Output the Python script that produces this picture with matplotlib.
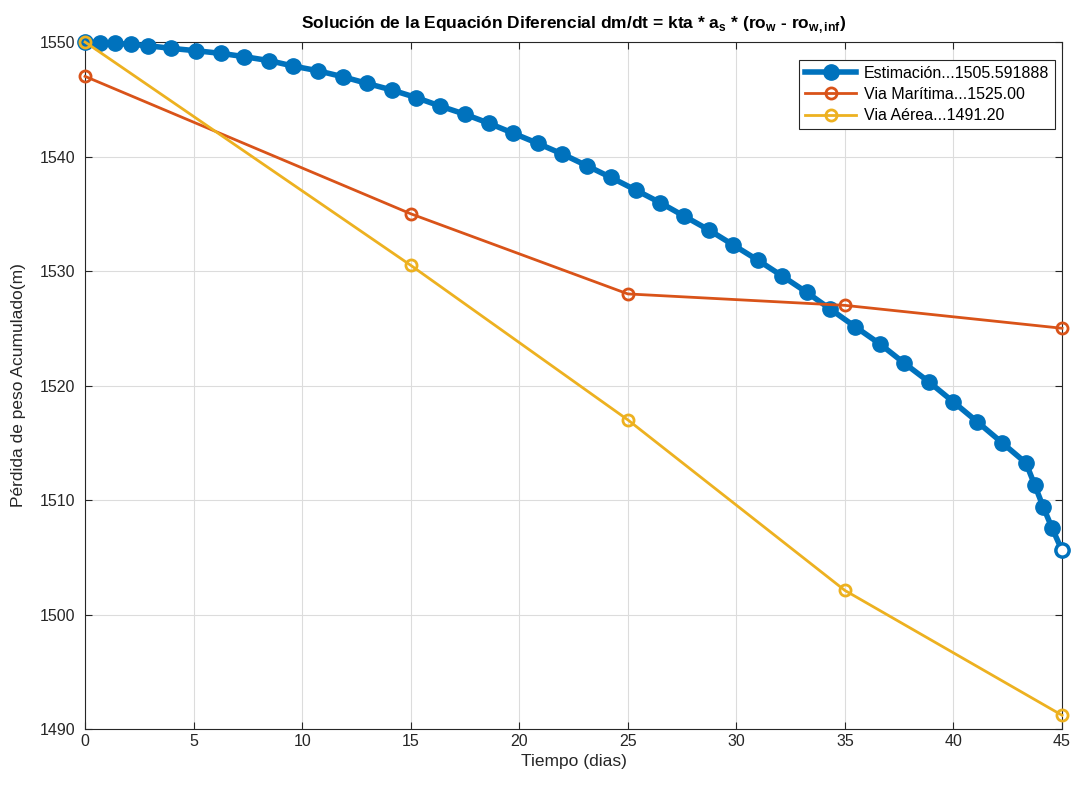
import matplotlib.pyplot as plt

plt.rcParams['font.family'] = ['Liberation Sans', 'DejaVu Sans']
plt.rcParams['mathtext.fontset'] = 'custom'
plt.rcParams['mathtext.rm'] = 'Liberation Sans'
plt.rcParams['mathtext.bf'] = 'Liberation Sans:bold'

# estimacion (solucion numerica)
t_est = [0, 0.69, 1.38, 2.12, 2.89, 3.95, 5.10, 6.26, 7.34, 8.49, 9.59, 10.72,
         11.87, 12.98, 14.13, 15.25, 16.35, 17.50, 18.61, 19.73, 20.85, 21.98,
         23.11, 24.21, 25.37, 26.49, 27.59, 28.74, 29.86, 30.98, 32.09, 33.24,
         34.32, 35.47, 36.62, 37.72, 38.86, 39.98, 41.09, 42.24, 43.34, 43.74,
         44.13, 44.54, 45.0]
m_est = [1550.0, 1549.94, 1549.89, 1549.80, 1549.68, 1549.45, 1549.24, 1549.01,
         1548.72, 1548.37, 1547.90, 1547.49, 1546.97, 1546.39, 1545.81, 1545.15,
         1544.41, 1543.69, 1542.90, 1542.03, 1541.15, 1540.22, 1539.20, 1538.18,
         1537.07, 1535.97, 1534.80, 1533.58, 1532.27, 1530.96, 1529.59, 1528.14,
         1526.68, 1525.14, 1523.62, 1521.97, 1520.33, 1518.59, 1516.84, 1515.00,
         1513.23, 1511.31, 1509.41, 1507.55, 1505.591888]

# datos experimentales
t_dat = [0, 15, 25, 35, 45]
m_maritima = [1547, 1535, 1528, 1527, 1525]
m_aerea = [1550, 1530.5, 1517, 1502.1, 1491.2]

fig = plt.figure(figsize=(10.78, 7.87), dpi=100)
ax = fig.add_axes([0.0789, 0.0737, 0.9063, 0.8729])

ax.plot(t_est, m_est, '-o', color='#0072BD', lw=4, ms=11, clip_on=False,
        label='Estimación...%.6f' % m_est[-1], zorder=3)
ax.plot(t_est[-1], m_est[-1], 'o', color='#0072BD', mfc='white', mew=2, ms=9,
        clip_on=False, zorder=4)
ax.plot(t_dat, m_maritima, '-o', color='#D95319', lw=2, ms=8, mfc='none', mew=2,
        clip_on=False, label='Via Marítima...%.2f' % m_maritima[-1], zorder=3)
ax.plot(t_dat, m_aerea, '-o', color='#EDB120', lw=2, ms=8, mfc='none', mew=2,
        clip_on=False, label='Via Aérea...%.2f' % m_aerea[-1], zorder=3)

ax.set_xlim(0, 45)
ax.set_ylim(1490, 1550)
ax.set_xticks(range(0, 46, 5))
ax.set_yticks(range(1490, 1551, 10))
ax.grid(True, color='#dcdcdc', lw=0.8)
ax.set_axisbelow(True)
ax.tick_params(direction='in', length=5, labelsize=11.5, top=True, right=True,
               colors='#262626')
ax.tick_params(axis='y', pad=7)
for s in ax.spines.values():
    s.set_color('#262626')
    s.set_linewidth(0.8)

ax.set_xlabel('Tiempo (dias)', fontsize=12.5, color='#262626')
ax.set_ylabel('Pérdida de peso Acumulado(m)', fontsize=12.5, color='#262626',
              labelpad=10)
ax.set_title(r'Solución de la Equación Diferencial dm/dt = kta * a$_\mathbf{s}$ * '
             r'(ro$_\mathbf{w}$ - ro$_\mathbf{w,inf}$)', fontsize=12.5,
             fontweight='bold', pad=10)

leg = ax.legend(loc='upper right', bbox_to_anchor=(1 - 7 / 977, 1 - 18 / 687),
                borderaxespad=0, fontsize=11.5, fancybox=False, framealpha=1,
                edgecolor='#262626', handlelength=3.2, handletextpad=0.5,
                labelspacing=0.4, borderpad=0.35)
leg.get_frame().set_linewidth(0.8)

plt.savefig('out.png', dpi=100)
